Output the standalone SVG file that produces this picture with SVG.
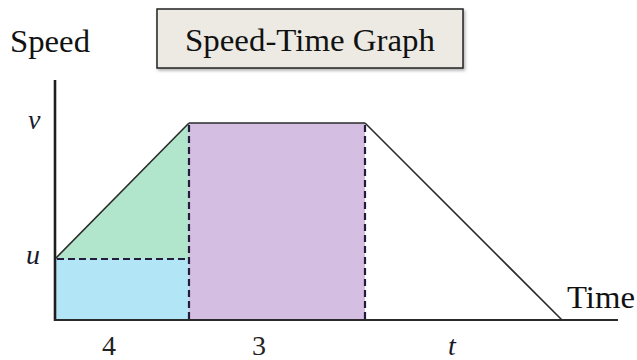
<svg xmlns="http://www.w3.org/2000/svg" width="637" height="360" viewBox="0 0 637 360">
<defs>
<style>
.lbl{font-family:"Liberation Serif","DejaVu Serif",serif;fill:#111;}
.it{font-family:"Liberation Serif",serif;font-style:italic;fill:#1a1a2e;}
.num{font-family:"Liberation Serif",serif;fill:#222;}
.edge{stroke:#2a2a2a;stroke-width:1.6;fill:none;}
.dash{stroke:#231c3d;stroke-width:2.2;stroke-dasharray:7,4;fill:none;}
</style>
<filter id="sh" x="-5%" y="-10%" width="115%" height="130%">
<feDropShadow dx="1.5" dy="2" stdDeviation="1.5" flood-color="#000" flood-opacity="0.3"/>
</filter>
</defs>
<g id="title">
<rect x="157" y="9" width="306" height="59" fill="#eceae2" stroke="#222" stroke-width="1.5" filter="url(#sh)"/>
<text class="lbl" x="310" y="51" font-size="31" text-anchor="middle" textLength="250" lengthAdjust="spacingAndGlyphs">Speed-Time Graph</text>
</g>
<g id="areas">
<rect id="blue" x="55" y="259" width="134" height="61" fill="#b2e6f7"/>
<polygon id="green" points="55,259 189,123 189,259" fill="#b2e6cc"/>
<rect id="purple" x="189" y="123" width="176" height="197" fill="#d4bfe2"/>
</g>
<g id="connectors">
<line class="edge" x1="55" y1="259" x2="189" y2="123"/>
<line class="edge" x1="189" y1="123" x2="365" y2="123"/>
<line class="edge" x1="365" y1="123" x2="562" y2="320"/>
<line class="dash" x1="189" y1="125" x2="189" y2="320"/>
<line class="dash" x1="365" y1="125" x2="365" y2="320"/>
<line class="dash" x1="57" y1="259" x2="189" y2="259" stroke="#1f4a4f"/>
<line x1="55" y1="80" x2="55" y2="321" stroke="#1e1e1e" stroke-width="2.6"/>
<line x1="54" y1="320" x2="618" y2="320" stroke="#2a2a2a" stroke-width="2"/>
</g>
<g id="labels">
<text class="lbl" x="10" y="52" font-size="31" textLength="80" lengthAdjust="spacingAndGlyphs">Speed</text>
<text class="lbl" x="567" y="308" font-size="31" textLength="68" lengthAdjust="spacingAndGlyphs">Time</text>
<text class="it" x="28" y="129" font-size="28">v</text>
<text class="it" x="26" y="264" font-size="28">u</text>
<text class="num" x="109" y="355" font-size="28" text-anchor="middle">4</text>
<text class="num" x="259" y="355" font-size="28" text-anchor="middle">3</text>
<text class="it" x="452" y="355" font-size="28" text-anchor="middle">t</text>
</g>
</svg>
